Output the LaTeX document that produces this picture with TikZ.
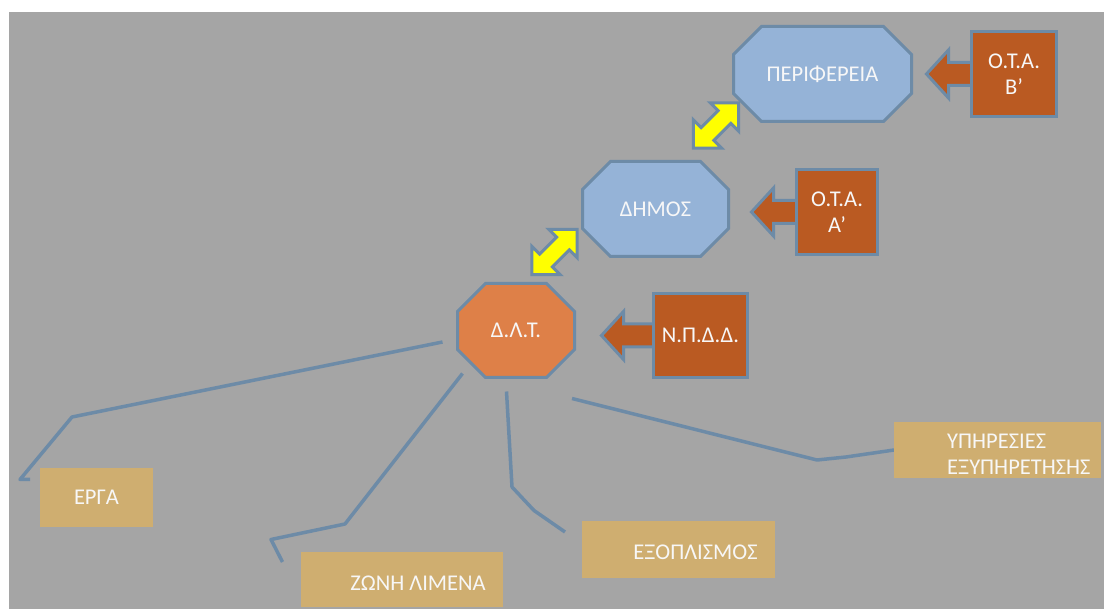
\documentclass[tikz,border=0pt]{standalone}
\usepackage{fontspec}
\setmainfont{Carlito}
\usetikzlibrary{calc,backgrounds}

\definecolor{canvasgrey}{HTML}{A5A5A5}
\definecolor{edgeblue}{HTML}{6D8BA7}
\definecolor{skyfill}{HTML}{95B3D7}
\definecolor{orangefill}{HTML}{DE8048}
\definecolor{rustfill}{HTML}{BA5A22}
\definecolor{sandfill}{HTML}{CFAE70}
\definecolor{textwhite}{HTML}{F7F7F7}
\definecolor{brightyellow}{HTML}{FFFF00}

\tikzset{
  lbl/.style={text=textwhite, font=\fontsize{22.5}{26.5}\selectfont, align=center, inner sep=0pt},
  octanode/.style={lbl, rectangle, outer sep=0pt},
  octashape/.style={draw=edgeblue, line width=3pt},
  rustbox/.style={lbl, rectangle, fill=rustfill, draw=edgeblue, line width=3pt, outer sep=0pt},
  sandbox/.style={rectangle, fill=sandfill, inner sep=0pt, outer sep=0pt},
  pointer/.style={fill=rustfill, draw=edgeblue, line width=3pt},
  twoway/.style={fill=brightyellow, draw=edgeblue, line width=3pt},
  conn/.style={draw=edgeblue, line width=3.5pt, line join=round}
}

% chamfered outline around a node: #1 node, #2 fill colour
\newcommand\octoutline[2]{%
  \filldraw[octashape, fill=#2]
    ($(#1.north west)+(28,0)$) -- ($(#1.north east)+(-28,0)$) --
    ($(#1.north east)+(0,28)$) -- ($(#1.south east)+(0,-28)$) --
    ($(#1.south east)+(-28,0)$) -- ($(#1.south west)+(28,0)$) --
    ($(#1.south west)+(0,-28)$) -- ($(#1.north west)+(0,28)$) -- cycle;}

% left-pointing block arrow leaving the west side of node #1, tip #2 away
\newcommand\leftpointer[2]{%
  \filldraw[pointer]
    ($(#1.west)+(-#2,0)$) -- ($(#1.west)+(-#2+22,-24)$) --
    ($(#1.west)+(-#2+22,-11.5)$) -- ($(#1.west)+(6,-11.5)$) --
    ($(#1.west)+(6,11.5)$) -- ($(#1.west)+(-#2+22,11.5)$) --
    ($(#1.west)+(-#2+22,24)$) -- cycle;}

% diagonal double-headed block arrow centred on #1
\newcommand\twowayarrow[1]{%
  \begin{scope}[shift={#1}, rotate=45]
    \filldraw[twoway] (32,0) -- (12,20) -- (12,9) -- (-12,9) -- (-12,20) --
      (-32,0) -- (-12,-20) -- (-12,-9) -- (12,-9) -- (12,-20) -- cycle;
  \end{scope}}

\begin{document}
\begin{tikzpicture}[x=1pt, y=-1pt]
  \useasboundingbox (0,0) rectangle (1104,609);

  % hierarchy of bodies
  \node[octanode, minimum width=178, minimum height=95] (prf) at (822.5,74) {ΠΕΡΙΦΕΡΕΙΑ};
  \node[octanode, minimum width=146, minimum height=95] (dim) at (655.5,209) {ΔΗΜΟΣ};
  \node[octanode, minimum width=117, minimum height=94] (dlt) at (516,330.5) {Δ.Λ.Τ.};

  % legal forms
  \node[rustbox, minimum width=85, minimum height=85] (otab) at (1014,74) {Ο.Τ.Α.\\Β’};
  \node[rustbox, minimum width=81, minimum height=85] (otaa) at (837,212) {Ο.Τ.Α.\\Α’};
  \node[rustbox, minimum width=94, minimum height=84] (npdd) at (700.5,335.5) {Ν.Π.Δ.Δ.};

  % areas of responsibility
  \node[sandbox, minimum width=113, minimum height=59] (erga) at (96.5,497.5) {};
  \node[sandbox, minimum width=202, minimum height=55] (zona) at (402,579.5) {};
  \node[sandbox, minimum width=193, minimum height=57] (exop) at (678.5,549.5) {};
  \node[sandbox, minimum width=207, minimum height=56] (ypir) at (997.5,450) {};

  \node[lbl] (erga-t) at (erga.center) {ΕΡΓΑ};
  \node[lbl] (zona-t) at ($(zona.center)+(16,3.5)$) {ΖΩΝΗ ΛΙΜΕΝΑ};
  \node[lbl] (exop-t) at ($(exop.center)+(17,3)$) {ΕΞΟΠΛΙΣΜΟΣ};
  \node[lbl, align=left, anchor=west] (ypir-t) at ($(ypir.west)+(53,4.5)$) {ΥΠΗΡΕΣΙΕΣ\\ΕΞΥΠΗΡΕΤΗΣΗΣ};

  % links between the levels
  \twowayarrow{(716,125.5)}
  \twowayarrow{(554.5,252)}

  \begin{scope}[on background layer]
    \fill[white] (0,0) rectangle (1104,609);
    \fill[canvasgrey] (9,12) rectangle (1104,609);

    \octoutline{prf}{skyfill}
    \octoutline{dim}{skyfill}
    \octoutline{dlt}{orangefill}

    \leftpointer{otab}{45}
    \leftpointer{otaa}{45}
    \leftpointer{npdd}{52}

    \draw[conn] ($(dlt.west)+(-15,11.5)$) -- (72,417) -- (20,479.5) -- (30,479.5);
    \draw[conn] ($(dlt.south west)+(5,-4)$) -- (345,524) -- (271,539.5) -- (282.5,562);
    \draw[conn] ($(dlt.south)+(-9.5,14)$) -- (512,487) -- (534,510.5) -- (565,532);
    \draw[conn] ($(dlt.south east)+(-2.5,21)$) -- (817,460) -- (846,457) -- (ypir.west);
  \end{scope}
\end{tikzpicture}
\end{document}
